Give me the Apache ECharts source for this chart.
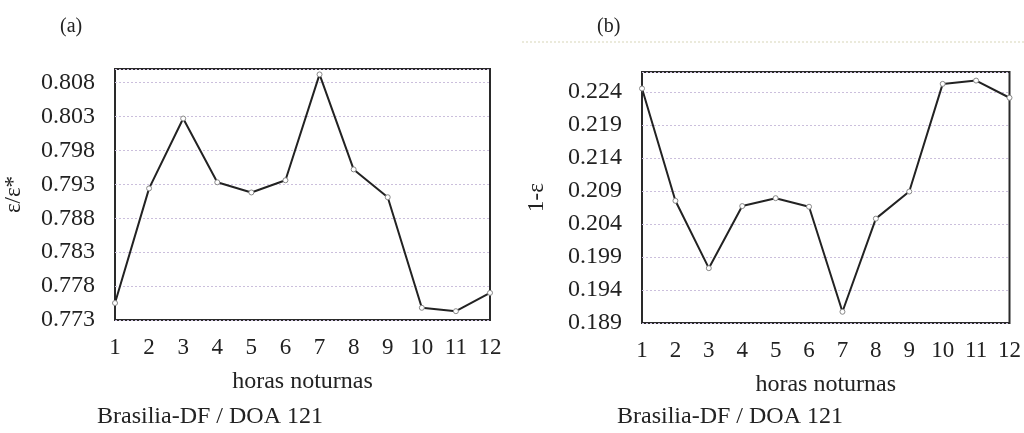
<!DOCTYPE html>
<html>
<head>
<meta charset="utf-8">
<script src="https://cdn.jsdelivr.net/npm/echarts@6/dist/echarts.min.js"></script>
<style>
  html, body { margin: 0; padding: 0; background: #fff; }
  #chart { width: 1024px; height: 433px; }
</style>
</head>
<body>
<div id="chart"></div>
<script>
// Night hours 1..12
const hours = [1, 2, 3, 4, 5, 6, 7, 8, 9, 10, 11, 12];

// Panel (a): ε/ε*
const ratioValues = [0.7755, 0.7924, 0.8027, 0.7933, 0.7918, 0.7936, 0.8092, 0.7952, 0.7911, 0.7748, 0.7743, 0.7770];
// Panel (b): 1-ε
const oneMinusEps = [0.2245, 0.2075, 0.1973, 0.2067, 0.2079, 0.2066, 0.1907, 0.2048, 0.2089, 0.2252, 0.2257, 0.2231];

// Axis ranges and tick step
const ratioRange = [0.773, 0.81];
const epsRange = [0.189, 0.227];
const yStep = 0.005;

const panelLabels = ['(a)', '(b)'];
const yNames = ['ε/ε*', '1-ε'];
const xName = 'horas noturnas';
const caption = 'Brasilia-DF / DOA 121';

const FONT = '"Liberation Serif", "DejaVu Serif", serif';
const TEXT = '#222';

function pairs(vals) { return hours.map((h, i) => [h, vals[i]]); }

function xAxisCfg(gridIndex) {
  return {
    type: 'value', gridIndex, min: 1, max: 12, interval: 1,
    axisLine: { show: false }, axisTick: { show: false },
    splitLine: { show: false },
    axisLabel: {
      color: TEXT, fontFamily: FONT, fontSize: 23, margin: 16,
      alignMinLabel: 'center', alignMaxLabel: 'center'
    },
    name: xName, nameLocation: 'middle', nameGap: 50,
    nameTextStyle: { color: TEXT, fontFamily: FONT, fontSize: 24 }
  };
}

function yAxisCfg(gridIndex, range, name, gap) {
  return {
    type: 'value', gridIndex, min: range[0], max: range[1], interval: yStep,
    axisLine: { show: false }, axisTick: { show: false },
    axisLabel: {
      color: TEXT, fontFamily: FONT, fontSize: 24, margin: 20,
      showMaxLabel: false,
      formatter: v => v.toFixed(3)
    },
    splitLine: { show: true, lineStyle: { color: '#cbbfdc', type: [2, 2], width: 1 } },
    name, nameLocation: 'middle', nameRotate: 90, nameGap: gap,
    nameTextStyle: { color: TEXT, fontFamily: FONT, fontSize: 23 }
  };
}

function seriesCfg(idx, vals) {
  return {
    type: 'line', xAxisIndex: idx, yAxisIndex: idx,
    data: pairs(vals),
    symbol: 'circle', symbolSize: 5,
    itemStyle: { color: '#fff', borderColor: '#888', borderWidth: 1 },
    lineStyle: { color: '#222', width: 2 },
    animation: false
  };
}

const chart = echarts.init(document.getElementById('chart'), null, { renderer: 'canvas' });
chart.setOption({
  backgroundColor: '#fff',
  animation: false,
  grid: [
    { left: 115, right: 534, top: 69, bottom: 113, show: true, borderColor: '#2a2a2a', borderWidth: 2, backgroundColor: 'transparent' },
    { left: 642, right: 5, top: 72, bottom: 110, show: true, borderColor: '#2a2a2a', borderWidth: 2, backgroundColor: 'transparent' }
  ],
  xAxis: [xAxisCfg(0), xAxisCfg(1)],
  yAxis: [yAxisCfg(0, ratioRange, yNames[0], 90), yAxisCfg(1, epsRange, yNames[1], 94)],
  series: [seriesCfg(0, ratioValues), seriesCfg(1, oneMinusEps)],
  graphic: [
    { type: 'text', left: 60, top: 17, style: { text: panelLabels[0], font: '20px ' + FONT, fill: TEXT } },
    { type: 'text', left: 597, top: 17, style: { text: panelLabels[1], font: '20px ' + FONT, fill: TEXT } },
    { type: 'line', shape: { x1: 522, y1: 42, x2: 1024, y2: 42 }, style: { stroke: '#d8d6b8', lineWidth: 1, lineDash: [2, 2] } },
    { type: 'text', left: 97, top: 405, style: { text: caption, font: '24px ' + FONT, fill: TEXT } },
    { type: 'text', left: 617, top: 405, style: { text: caption, font: '24px ' + FONT, fill: TEXT } }
  ]
});
</script>
</body>
</html>
